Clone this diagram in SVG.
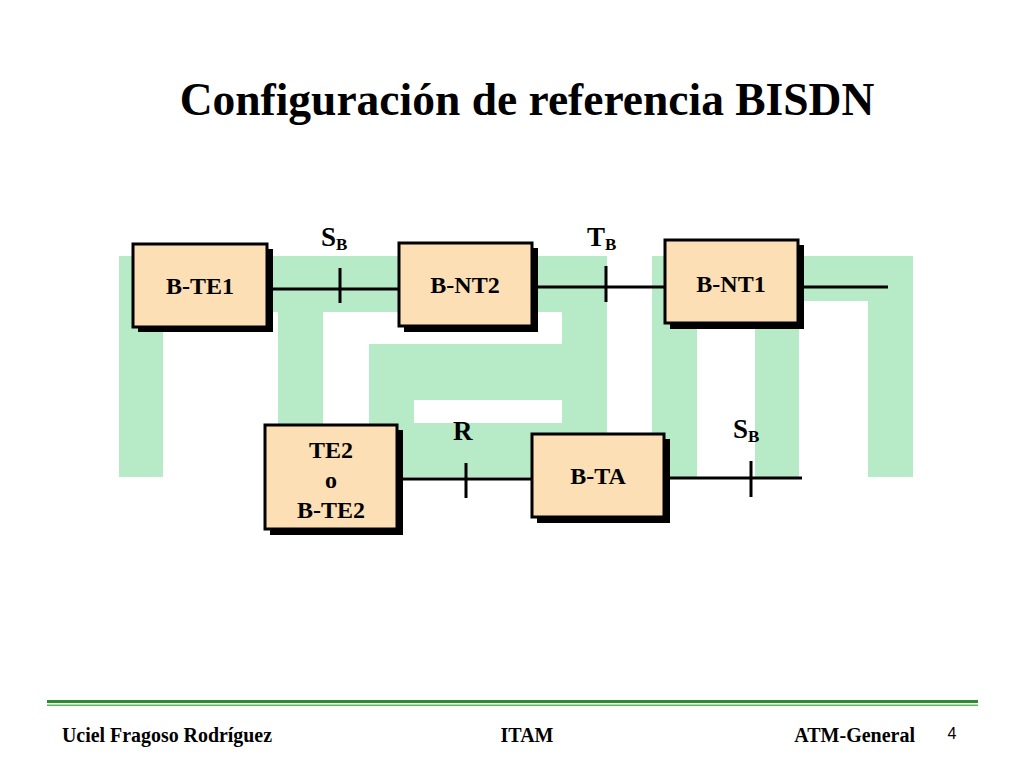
<svg xmlns="http://www.w3.org/2000/svg" width="1024" height="768" viewBox="0 0 1024 768">
<style>
.bg{fill:#b7eac7}
.wh{fill:#ffffff}
.box{fill:#fcdfb5;stroke:#000;stroke-width:3}
.sh{fill:#000}
.t{font-family:"Liberation Serif","Times New Roman",serif;font-weight:bold;fill:#000}
.bt{font-size:24px;text-anchor:middle}
.lbl{font-size:27px}
.sub{font-size:17px}
.ln{stroke:#000;stroke-width:3;fill:none}
.ft{font-family:"Liberation Serif","Times New Roman",serif;font-weight:bold;font-size:20px;fill:#000}
</style>
<rect x="0" y="0" width="1024" height="768" fill="#ffffff"/>
<g id="background-logo">
<rect class="bg" x="119" y="256" width="488" height="56"/>
<rect class="bg" x="119" y="256" width="44" height="221"/>
<rect class="bg" x="278" y="256" width="45" height="221"/>
<rect class="bg" x="562" y="256" width="45" height="221"/>
<rect class="bg" x="369" y="344" width="238" height="133"/>
<rect class="wh" x="414" y="400" width="148" height="23"/>
<rect class="bg" x="652" y="256" width="261" height="45"/>
<rect class="bg" x="652" y="256" width="45" height="221"/>
<rect class="bg" x="755" y="256" width="44" height="221"/>
<rect class="bg" x="868" y="256" width="45" height="221"/>
</g>
<text class="t" x="527" y="115" font-size="45.5" text-anchor="middle">Configuración de referencia BISDN</text>
<g id="connectors">
<line class="ln" x1="268" y1="289" x2="399" y2="289"/>
<line class="ln" x1="340" y1="268" x2="340" y2="303"/>
<line class="ln" x1="533" y1="287" x2="665" y2="287"/>
<line class="ln" x1="606" y1="266" x2="606" y2="302"/>
<line class="ln" x1="799" y1="287" x2="888" y2="287"/>
<line class="ln" x1="398" y1="479" x2="532" y2="479"/>
<line class="ln" x1="466" y1="463" x2="466" y2="498"/>
<line class="ln" x1="665" y1="478" x2="802" y2="478"/>
<line class="ln" x1="751" y1="461" x2="751" y2="497"/>
</g>
<g id="label-sb1"><text class="t lbl" x="321" y="246">S<tspan class="sub" dy="4">B</tspan></text></g>
<g id="label-tb"><text class="t lbl" x="587" y="246">T<tspan class="sub" dy="4">B</tspan></text></g>
<g id="label-r"><text class="t lbl" x="453" y="440">R</text></g>
<g id="label-sb2"><text class="t lbl" x="733" y="438">S<tspan class="sub" dy="4">B</tspan></text></g>
<g id="node-bte1">
<rect class="sh" x="138" y="249" width="135" height="83"/>
<rect class="box" x="133" y="244" width="134" height="83"/>
<text class="t bt" x="200" y="294">B-TE1</text>
</g>
<g id="node-bnt2">
<rect class="sh" x="404" y="248" width="134" height="84"/>
<rect class="box" x="399" y="243" width="133" height="83"/>
<text class="t bt" x="465" y="293">B-NT2</text>
</g>
<g id="node-bnt1">
<rect class="sh" x="670" y="245" width="134" height="84"/>
<rect class="box" x="665" y="240" width="133" height="83"/>
<text class="t bt" x="731" y="292">B-NT1</text>
</g>
<g id="node-te2">
<rect class="sh" x="270" y="430" width="133" height="105"/>
<rect class="box" x="265" y="425" width="132" height="104"/>
<text class="t bt" x="331" y="458">TE2</text>
<text class="t bt" x="331" y="488">o</text>
<text class="t bt" x="331" y="518">B-TE2</text>
</g>
<g id="node-bta">
<rect class="sh" x="537" y="439" width="133" height="84"/>
<rect class="box" x="532" y="434" width="132" height="83"/>
<text class="t bt" x="598" y="484">B-TA</text>
</g>
<g id="footer">
<rect x="47" y="700" width="931" height="3" fill="#2e8b2e"/>
<rect x="47" y="704.5" width="931" height="1.5" fill="#5cb85c"/>
<text class="ft" x="62" y="742" textLength="210" lengthAdjust="spacingAndGlyphs">Uciel Fragoso Rodríguez</text>
<text class="ft" x="527" y="742" text-anchor="middle">ITAM</text>
<text class="ft" x="915" y="742" text-anchor="end">ATM-General</text>
<text x="952" y="739" font-family="Liberation Sans, Arial, sans-serif" font-size="16" text-anchor="middle" fill="#000">4</text>
</g>
</svg>
